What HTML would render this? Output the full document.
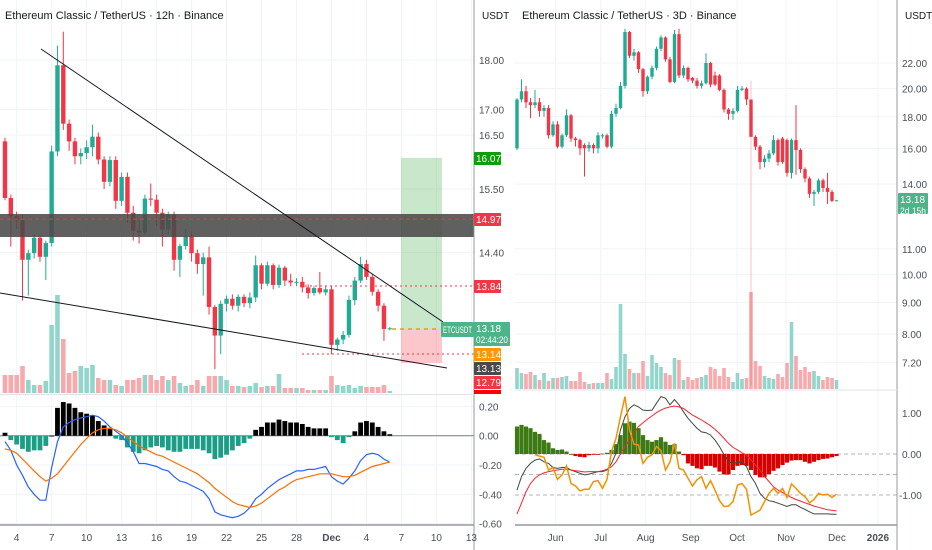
<!DOCTYPE html>
<html><head><meta charset="utf-8">
<style>
html,body{margin:0;padding:0;background:#fff;overflow:hidden;}
svg{display:block;font-family:"Liberation Sans",sans-serif;}
</style></head>
<body>
<svg id="c" width="932" height="550" viewBox="0 0 932 550" xmlns="http://www.w3.org/2000/svg">
<rect x="0" y="0" width="932" height="550" fill="#ffffff"/>
<g id="grid"></g>
<g id="leftMain"></g>
<g id="rightMain"></g>
<g id="axes"></g>
</svg>
<script>
// ---------- LEFT (12h) DATA ----------
const leftCandles = [
[16.38,16.45,15.30,15.34],[15.34,15.40,14.50,15.02],[15.02,15.10,14.80,14.95],[14.95,15.05,13.62,14.28],
[14.28,14.45,13.70,14.39],[14.39,14.70,14.30,14.65],[14.65,14.70,14.25,14.33],[14.33,14.60,13.95,14.56],
[14.56,16.30,14.50,16.19],[16.19,18.30,16.10,17.89],[17.89,18.60,16.60,16.72],[16.72,16.80,16.20,16.38],
[16.38,16.45,15.95,16.10],[16.10,16.25,15.95,16.16],[16.16,16.40,16.05,16.27],[16.27,16.70,16.10,16.47],
[16.47,16.55,15.95,16.04],[16.04,16.10,15.50,15.63],[15.63,16.10,15.55,16.03],[16.03,16.10,15.15,15.29],
[15.29,15.80,15.20,15.72],[15.72,15.80,14.90,15.08],[15.08,15.20,14.60,14.77],[14.77,14.95,14.55,14.74],
[14.74,15.40,14.70,15.33],[15.33,15.60,15.20,15.31],[15.31,15.40,14.85,15.08],[15.08,15.15,14.50,14.79],
[14.79,15.10,14.70,15.05],[15.05,15.10,14.10,14.28],[14.28,14.55,14.00,14.51],[14.51,14.80,14.45,14.68],
[14.68,14.75,14.25,14.39],[14.39,14.45,14.05,14.21],[14.21,14.40,13.70,14.32],[14.32,14.50,13.40,13.52],
[13.52,13.55,12.58,13.08],[13.08,13.62,12.80,13.57],[13.57,13.70,13.45,13.65],[13.65,13.72,13.48,13.54],
[13.54,13.72,13.45,13.68],[13.68,13.72,13.52,13.58],[13.58,13.75,13.50,13.67],[13.67,14.35,13.60,14.19],
[14.19,14.22,13.80,13.89],[13.89,14.25,13.85,14.19],[14.19,14.22,13.80,13.87],[13.87,14.20,13.82,14.15],
[14.15,14.18,13.85,13.94],[13.94,14.05,13.85,13.91],[13.91,13.98,13.85,13.92],[13.92,14.00,13.75,13.83],
[13.83,13.88,13.65,13.74],[13.74,13.85,13.70,13.82],[13.82,14.08,13.72,13.75],[13.75,13.85,13.70,13.80],
[13.80,13.85,12.80,12.94],[12.94,13.05,12.85,13.02],[13.02,13.15,12.95,13.09],[13.09,13.70,13.05,13.63],
[13.63,14.00,13.55,13.94],[13.94,14.33,13.90,14.21],[14.21,14.28,13.95,14.00],[14.00,14.05,13.70,13.76],
[13.76,13.80,13.45,13.54],[13.54,13.58,13.00,13.18],[13.18,13.21,13.16,13.19]
];
const leftVolume = [18,18,18,27,13,8,8,12,68,98,54,20,22,27,25,28,15,13,13,8,7,13,13,15,18,18,13,17,13,17,10,7,8,13,7,17,17,17,13,7,7,6,7,10,6,7,7,19,5,5,5,5,3,3,3,3,17,8,7,8,5,7,6,6,6,8,2];
const leftHist = [0.02,-0.03,-0.06,-0.09,-0.11,-0.10,-0.10,-0.07,0.00,0.19,0.23,0.22,0.19,0.16,0.15,0.14,0.10,0.07,0.05,-0.02,-0.03,-0.08,-0.11,-0.12,-0.10,-0.08,-0.07,-0.08,-0.10,-0.11,-0.11,-0.09,-0.09,-0.09,-0.10,-0.12,-0.16,-0.15,-0.13,-0.10,-0.07,-0.05,-0.02,0.04,0.06,0.09,0.09,0.11,0.10,0.09,0.09,0.08,0.06,0.05,0.05,0.05,-0.01,-0.03,-0.05,-0.01,0.03,0.09,0.10,0.09,0.06,0.03,0.01];
const leftMacd = [-0.04,-0.10,-0.20,-0.27,-0.35,-0.40,-0.44,-0.44,-0.22,-0.04,0.06,0.09,0.11,0.12,0.13,0.14,0.13,0.10,0.06,0.03,0.00,-0.05,-0.11,-0.19,-0.19,-0.20,-0.21,-0.23,-0.24,-0.28,-0.31,-0.32,-0.34,-0.36,-0.38,-0.43,-0.52,-0.54,-0.55,-0.56,-0.55,-0.53,-0.49,-0.43,-0.40,-0.36,-0.33,-0.30,-0.28,-0.26,-0.24,-0.24,-0.23,-0.23,-0.22,-0.21,-0.28,-0.31,-0.33,-0.29,-0.24,-0.17,-0.13,-0.12,-0.13,-0.16,-0.18];
const leftSignal = [-0.09,-0.10,-0.12,-0.16,-0.20,-0.24,-0.28,-0.31,-0.29,-0.26,-0.21,-0.16,-0.11,-0.06,-0.02,0.02,0.04,0.05,0.05,0.04,0.02,-0.01,-0.04,-0.07,-0.09,-0.11,-0.13,-0.14,-0.16,-0.18,-0.20,-0.22,-0.24,-0.26,-0.29,-0.32,-0.36,-0.39,-0.42,-0.45,-0.47,-0.48,-0.49,-0.48,-0.46,-0.43,-0.40,-0.37,-0.35,-0.32,-0.30,-0.29,-0.28,-0.27,-0.26,-0.26,-0.26,-0.27,-0.28,-0.28,-0.27,-0.25,-0.23,-0.21,-0.20,-0.19,-0.18];
const leftPriceTicks = [18.00,17.00,16.50,15.50,14.40];
const leftMacdTicks = [0.20,0.00,-0.20,-0.40,-0.60];
const leftDateLabels = ["4","7","10","13","16","19","22","25","28","Dec","4","7","10","13"];
const leftDateIdx = [2,8,14,20,26,32,38,44,50,56,62,68,74,80];

// ---------- RIGHT (3D) DATA ----------
const rightCandles = [
[16.0,19.3,15.9,19.2],[19.2,20.7,19.0,19.8],[19.8,20.2,18.6,19.0],[19.0,19.3,17.9,18.8],[18.8,19.9,18.6,19.0],
[19.0,19.3,18.0,18.4],[18.4,18.8,18.0,18.6],[18.6,18.8,16.6,16.8],[16.8,17.7,16.7,17.5],[17.5,17.7,16.0,16.1],
[16.1,16.9,16.0,16.8],[16.8,18.5,16.7,18.1],[18.1,18.2,16.4,16.6],[16.6,16.7,16.1,16.5],[16.5,16.6,15.6,16.0],
[16.2,16.3,14.4,16.0],[16.0,16.4,15.8,16.2],[16.2,16.3,15.7,16.0],[16.0,17.0,15.7,16.8],[16.8,16.9,16.6,16.8],
[16.8,16.9,16.0,16.1],[16.1,18.4,16.0,18.2],[18.2,18.9,18.0,18.6],[18.6,20.5,18.5,20.2],[20.2,25.0,20.0,24.7],
[24.7,24.8,22.4,22.6],[22.6,23.2,22.2,22.9],[22.9,23.0,21.2,21.5],[21.5,21.6,19.4,19.8],[19.8,21.0,19.6,20.9],
[20.9,21.8,20.7,21.6],[21.6,23.4,21.4,23.2],[23.2,24.4,23.0,24.2],[24.2,24.3,22.1,22.3],[22.3,22.5,20.4,20.5],
[20.5,24.9,20.4,24.5],[24.5,25.0,20.8,21.0],[21.0,21.8,20.8,21.6],[21.6,21.7,20.5,20.7],[20.8,20.9,20.4,20.6],
[20.6,20.8,20.0,20.2],[20.2,20.6,20.0,20.4],[20.4,22.8,20.3,22.0],[22.0,22.1,20.1,20.3],[21.0,21.3,20.2,20.3],
[21.0,21.1,19.8,19.9],[19.9,20.0,18.3,18.5],[18.5,18.6,17.8,18.2],[18.2,18.6,17.8,18.4],[18.4,20.2,18.3,19.9],
[19.9,20.2,19.8,20.0],[20.0,20.1,18.8,19.2],[19.2,20.6,6.6,16.7],[16.7,16.8,15.9,16.1],[16.1,16.2,14.8,15.2],
[15.2,15.6,14.9,15.4],[15.4,15.9,15.2,15.7],[15.7,16.8,15.6,16.5],[16.5,16.6,15.0,15.2],[16.6,16.7,15.1,15.2],
[16.5,16.6,14.4,14.6],[14.6,16.6,14.3,16.5],[16.5,18.8,14.5,15.9],[15.9,16.0,14.6,14.8],[14.8,14.9,14.1,14.3],
[14.3,14.4,13.3,13.5],[13.5,13.7,12.9,13.6],[13.6,14.3,13.5,14.2],[14.2,14.3,13.6,13.8],[13.8,14.6,13.0,13.6],
[13.6,13.7,13.1,13.15],[13.18,13.2,13.15,13.18]
];
const rightVolume = [21,16,15,17,14,9,16,8,11,11,12,13,8,8,17,7,5,6,6,6,16,10,22,85,35,20,16,16,28,13,34,26,22,16,14,31,29,9,12,9,11,12,14,22,20,13,21,12,7,16,10,11,97,28,23,13,11,10,15,12,26,67,33,19,22,17,18,13,9,12,11,9];
const rightHist = [0.67,0.71,0.67,0.63,0.54,0.49,0.34,0.28,0.14,0.10,0.11,0.06,0.00,-0.05,-0.07,-0.08,-0.03,-0.02,-0.01,0.01,0.03,0.10,0.24,0.46,0.75,0.79,0.76,0.63,0.46,0.34,0.30,0.34,0.41,0.30,0.22,0.24,0.06,-0.03,-0.23,-0.29,-0.35,-0.37,-0.29,-0.29,-0.33,-0.43,-0.50,-0.50,-0.39,-0.29,-0.27,-0.29,-0.39,-0.51,-0.57,-0.57,-0.49,-0.41,-0.35,-0.27,-0.21,-0.16,-0.15,-0.15,-0.19,-0.23,-0.19,-0.15,-0.12,-0.11,-0.08,-0.05];
const rightBlack = [-0.88,-0.55,-0.35,-0.23,-0.15,-0.12,-0.19,-0.23,-0.33,-0.35,-0.33,-0.33,-0.39,-0.43,-0.47,-0.51,-0.49,-0.46,-0.43,-0.43,-0.39,-0.23,0.02,0.59,0.91,1.11,1.20,1.15,1.07,1.06,1.07,1.24,1.40,1.36,1.20,1.33,1.20,1.03,0.87,0.75,0.63,0.54,0.52,0.46,0.34,0.18,-0.02,-0.19,-0.23,-0.21,-0.19,-0.31,-0.55,-0.72,-0.96,-1.08,-1.14,-1.16,-1.20,-1.24,-1.28,-1.24,-1.24,-1.30,-1.35,-1.41,-1.46,-1.46,-1.46,-1.46,-1.47,-1.47];
const rightRed = [-1.46,-1.20,-0.92,-0.72,-0.59,-0.51,-0.46,-0.43,-0.41,-0.39,-0.37,-0.37,-0.39,-0.41,-0.42,-0.44,-0.43,-0.43,-0.43,-0.41,-0.37,-0.31,-0.19,0.00,0.18,0.36,0.52,0.67,0.76,0.85,0.93,1.01,1.07,1.12,1.15,1.17,1.15,1.11,1.03,0.95,0.89,0.83,0.76,0.69,0.60,0.50,0.38,0.26,0.16,0.10,0.03,-0.02,-0.15,-0.27,-0.39,-0.55,-0.67,-0.80,-0.88,-0.94,-1.00,-1.06,-1.11,-1.15,-1.19,-1.23,-1.27,-1.30,-1.33,-1.36,-1.37,-1.39];
const rightOrange = [null,null,null,null,-0.02,-0.05,-0.08,-0.39,-0.33,-0.62,-0.51,-0.29,-0.72,-0.78,-0.90,-0.86,-0.86,-0.67,-0.65,-0.84,-0.62,0.06,0.38,0.91,1.40,0.59,0.24,0.22,-0.23,-0.08,-0.02,0.18,0.08,-0.39,-0.19,0.26,-0.35,-0.39,-0.59,-0.78,-0.63,-0.55,-0.84,-0.65,-0.88,-1.14,-1.28,-1.27,-1.16,-0.76,-0.72,-0.86,-1.49,-1.43,-1.37,-1.16,-0.96,-0.84,-0.96,-0.84,-1.06,-0.73,-0.84,-0.96,-1.04,-1.19,-1.11,-0.96,-1.00,-0.98,-1.06,-0.98];
const rightPriceTicks = [22.00,20.00,18.00,16.00,14.00,11.00,10.00,9.00,8.00,7.20];
const rightIndTicks = [1.00,0.00,-1.00];
const rightMonthLabels = ["Jun","Jul","Aug","Sep","Oct","Nov","Dec","2026"];
const rightMonthIdx = [8.6,18.6,28.6,38.6,48.9,59.8,71.1,80.2];

// ---------- SCALES ----------
const NS = "http://www.w3.org/2000/svg";
const xL = k => 5 + 5.83*k;
const yL = p => 60 + (Math.log(18) - Math.log(p))*863;
const yLM = v => 435.7 - v*146.5;
const yLV = v => 393 - v;
const xR = j => 517 + 4.5*j;
const yR = p => 63 + (Math.log(22) - Math.log(p))*268;
const yRI = v => 454 - v*41;
const yRV = v => 389 - v;
const UP = "#22ab94", DN = "#f23645", UPV = "#92d5cb", DNV = "#f8a9ab";

function mk(tag, attrs, parent){
  const e = document.createElementNS(NS, tag);
  for (const k in attrs) e.setAttribute(k, attrs[k]);
  parent.appendChild(e);
  return e;
}
const grid = document.getElementById('grid');
const L = document.getElementById('leftMain');
const R = document.getElementById('rightMain');
const A = document.getElementById('axes');

leftPriceTicks.forEach(t=>{const g=mk('line',{x1:0,x2:474,y1:yL(t),y2:yL(t),stroke:'#f0f3fa'},grid);

});
leftMacdTicks.forEach(t=>{const g=mk('line',{x1:0,x2:474,y1:yLM(t),y2:yLM(t),stroke:'#f0f3fa'},grid);

});
leftDateIdx.forEach(i=>{const g=mk('line',{x1:xL(i),x2:xL(i),y1:0,y2:525,stroke:'#f0f3fa'},grid);

});
rightPriceTicks.forEach(t=>{const g=mk('line',{x1:515,x2:897,y1:yR(t),y2:yR(t),stroke:'#f0f3fa'},grid);

});
rightMonthIdx.forEach(i=>{const g=mk('line',{x1:xR(i),x2:xR(i),y1:0,y2:525,stroke:'#f0f3fa'},grid);

});

let e;
e = mk('rect',{x:401,y:yL(16.07),width:41,height:yL(13.18)-yL(16.07),fill:'#4caf50','fill-opacity':0.3},L);


e = mk('rect',{x:401,y:yL(13.18),width:41,height:34,fill:'#f23645','fill-opacity':0.28},L);



leftVolume.forEach((v,i)=>{const c=leftCandles[i];
 const b=mk('rect',{x:xL(i)-2.3,y:yLV(v),width:4.6,height:v,fill:c[3]>=c[0]?UPV:DNV},L);
 
 });

leftCandles.forEach((c,i)=>{const [o,h,l,cl]=c; const col=cl>=o?UP:DN; const x=xL(i);
 const w=mk('line',{x1:x,x2:x,y1:yL(h),y2:yL(l),stroke:col,'stroke-width':1},L);
 
 
 const top=Math.min(yL(o),yL(cl)); const hh=Math.max(1,Math.abs(yL(o)-yL(cl)));
 const b=mk('rect',{x:x-2.2,y:top,width:4.4,height:hh,fill:col},L);
 
 });

e = mk('rect',{x:0,y:214,width:474,height:23,fill:'#4a4a4a','fill-opacity':0.88},L);


e = mk('line',{x1:0,x2:474,y1:yL(14.97),y2:yL(14.97),stroke:'#f23645','stroke-dasharray':'4 3'},L);


e = mk('line',{x1:305,x2:474,y1:286,y2:286,stroke:'#f23645','stroke-dasharray':'2 3'},L);


e = mk('line',{x1:302,x2:474,y1:354,y2:354,stroke:'#f23645','stroke-dasharray':'2 3'},L);


e = mk('line',{x1:392,x2:440,y1:yL(13.18),y2:yL(13.18),stroke:'#ff9800','stroke-width':1.5,'stroke-dasharray':'4 4'},L);


e = mk('line',{x1:41,y1:49,x2:443,y2:322,stroke:'#131722','stroke-width':1},L);


e = mk('line',{x1:0,y1:293,x2:447,y2:368,stroke:'#131722','stroke-width':1},L);



e = mk('line',{x1:0,x2:474,y1:yLM(0),y2:yLM(0),stroke:'#787b86','stroke-width':1},L);


leftHist.forEach((v,i)=>{const y0=yLM(0), y1=yLM(v);
 const b=mk('rect',{x:xL(i)-2.4,y:Math.min(y0,y1),width:4.8,height:Math.max(0.8,Math.abs(y1-y0)),fill:v>=0?'#000000':'#1b9e85'},L);
 
 });
function poly(arr, xf, yf, color, parent, sw){
 let d=''; arr.forEach((v,i)=>{ if(v===null) return; d+=(d?'L':'M')+xf(i).toFixed(1)+' '+yf(v).toFixed(1);});
 return mk('path',{d:d,fill:'none',stroke:color,'stroke-width':sw||1.2},parent);
}
e = poly(leftMacd,xL,yLM,'#2962ff',L);


e = poly(leftSignal,xL,yLM,'#ff6d00',L);



rightVolume.forEach((v,i)=>{const c=rightCandles[i];
 const b=mk('rect',{x:xR(i)-1.8,y:yRV(v),width:3.6,height:v,fill:c[3]>=c[0]?UPV:DNV},R);
 
 });
rightCandles.forEach((c,i)=>{const [o,h,l,cl]=c; const col=cl>=o?UP:DN; const x=xR(i);
 const w=mk('line',{x1:x,x2:x,y1:yR(h),y2:Math.min(yR(l),388),stroke:col,'stroke-width':1,'stroke-opacity':l<10?0.3:1},R);
 
 
 const top=Math.min(yR(o),yR(cl)); const hh=Math.max(1,Math.abs(yR(o)-yR(cl)));
 const b=mk('rect',{x:x-1.7,y:top,width:3.4,height:hh,fill:col},R);
 
 });
[0,-0.5,-1].forEach(t=>{const g=mk('line',{x1:515,x2:897,y1:yRI(t),y2:yRI(t),stroke:'#b2b5be','stroke-dasharray':'4 3'},R);
 
 });
rightHist.forEach((v,i)=>{const y0=yRI(0), y1=yRI(v);
 const b=mk('rect',{x:xR(i)-2.1,y:Math.min(y0,y1),width:4.2,height:Math.max(0.8,Math.abs(y1-y0)),fill:v>=0?'#3d7a13':'#d80000'},R);
 
 });
e = poly(rightBlack,xR,yRI,'#3d4a3d',R,1);


e = poly(rightRed,xR,yRI,'#f7252f',R,1);


e = poly(rightOrange,xR,yRI,'#f39200',R,1.5);



function txt(s,x,y,opt){
 const t=mk('text',Object.assign({x:x,y:y,'font-size':10,fill:'#131722'},opt||{}),A);
 t.textContent=s; return t;
}
[[474,0,474,550],[897,0,897,550],[0,525,474,525],[515,525,897,525]].forEach(a=>{
 const l=mk('line',{x1:a[0],y1:a[1],x2:a[2],y2:a[3],stroke:'#9598a1','stroke-width':a[1]===a[3]?1.5:1},A);
 
 });
[[0,394.5,474],[515,390,897]].forEach(a=>{
 const l=mk('line',{x1:a[0],y1:a[1],x2:a[2],y2:a[1],stroke:'#e0e3eb'},A);
 
 });

e = txt('Ethereum Classic / TetherUS · 12h · Binance',5,19,{'font-size':11});


e = txt('Ethereum Classic / TetherUS · 3D · Binance',522,19,{'font-size':11});


e = txt('USDT',482,19,{'font-size':10});


e = txt('USDT',905,19,{'font-size':10});



leftPriceTicks.forEach(t=>{const s=txt(t.toFixed(2),479,yL(t)+4,{fill:'#4a4e59'});
 
 });
leftMacdTicks.forEach(t=>{const s=txt(t.toFixed(2),479,yLM(t)+4,{fill:'#4a4e59'});
 
 });
leftDateLabels.forEach((s,i)=>{const t=txt(s,xL(leftDateIdx[i]),541,{'text-anchor':'middle',fill:'#4a4e59','font-weight':s==='Dec'?'bold':'normal'});
 
 });
rightPriceTicks.forEach(t=>{const s=txt(t.toFixed(2),902,yR(t)+4,{fill:'#4a4e59'});
 
 });
rightIndTicks.forEach(t=>{const s=txt(t.toFixed(2),t<0?899:902,yRI(t)+4,{fill:'#4a4e59'});
 
 });
rightMonthLabels.forEach((s,i)=>{const t=txt(s,xR(rightMonthIdx[i]),541,{'text-anchor':'middle',fill:'#4a4e59','font-weight':s==='2026'?'bold':'normal'});
 
 });

function tag(label,y,h,fill,x,w,name,sub,fs){
 const r=mk('rect',{x:x,y:y,width:w,height:h,fill:fill,rx:1},A);
 
 
 const opt={fill:'#ffffff','font-size':fs||10};
 if(fs) { opt.textLength=w-4; opt.lengthAdjust='spacingAndGlyphs'; }
 const t=txt(label,x+2,y+(fs?11:10),opt);
 
 
 if(sub){const t2=txt(sub,x+2,y+21,{fill:'#ffffff','font-size':9,textLength:w-4,lengthAdjust:'spacingAndGlyphs'});
  
  }
}
tag('16.07',152,13,'#0f9d0f',474,27,'price-tag-16-07');
tag('14.97',213,13,'#f23645',474,27,'price-tag-14-97');
tag('13.84',280,13,'#f23645',474,27,'price-tag-13-84');
tag('13.18',322,24,'#4db48a',474,36,'price-tag-last',"02:44:20");
tag('13.14',348,13,'#ff9800',474,27,'price-tag-13-14');
tag('13.13',362,13,'#4a4a4a',474,27,'price-tag-13-13');
tag('12.79',376,13,'#f23645',474,27,'price-tag-12-79');
e = mk('rect',{x:474,y:390,width:27,height:4,fill:'#ff0000'},A);


tag('ETCUSDT',322,15,'#4db48a',441,33,'symbol-label',null,9);
tag('13.18',193,21,'#4db48a',898,30,'right-price-tag-last','2d 15h');
</script>
</body></html>
